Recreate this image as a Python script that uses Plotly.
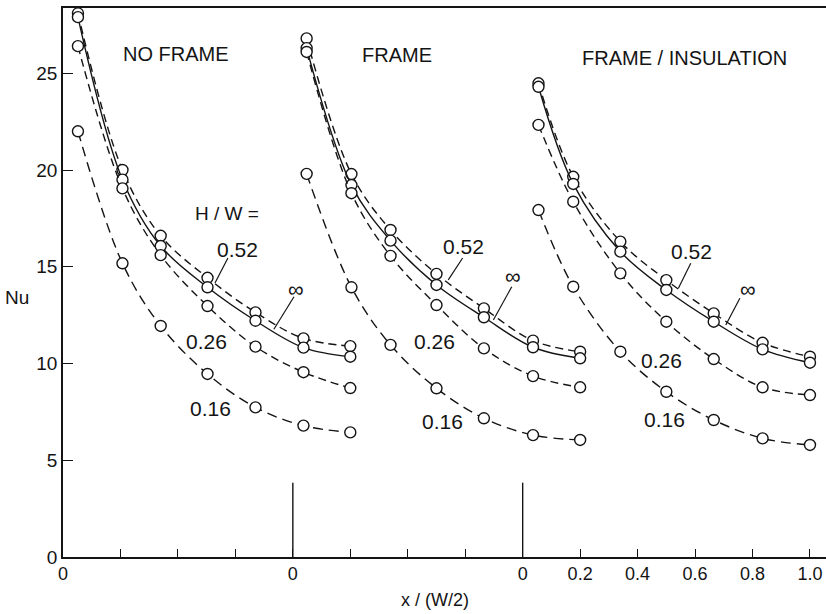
import plotly.graph_objects as go

# ---------------- data ----------------
panel_names = ["NO FRAME", "FRAME", "FRAME / INSULATION"]
panel_offsets = [0.0, 0.8, 1.6]          # panel origins on the shared x/(W/2) axis

x_p1 = [0.052, 0.207, 0.34, 0.503, 0.67, 0.837, 1.0]
x_p2 = [0.048, 0.204, 0.34, 0.50, 0.665, 0.836, 1.0]
x_p3 = [0.055, 0.176, 0.34, 0.50, 0.665, 0.835, 1.0]

p1_052 = [28.1, 20.0, 16.6, 14.43, 12.64, 11.30, 10.90]
p1_inf = [27.9, 19.5, 16.07, 13.94, 12.21, 10.82, 10.35]
p1_026 = [26.4, 19.05, 15.6, 12.97, 10.87, 9.55, 8.73]
p1_016 = [22.0, 15.18, 11.94, 9.46, 7.73, 6.79, 6.44]

p2_052 = [26.8, 19.79, 16.9, 14.63, 12.85, 11.18, 10.61]
p2_inf = [26.3, 19.22, 16.35, 14.06, 12.39, 10.84, 10.27]
p2_026 = [26.1, 18.8, 15.56, 13.02, 10.78, 9.35, 8.77]
p2_016 = [19.8, 13.94, 10.96, 8.72, 7.17, 6.30, 6.05]

p3_052 = [24.48, 19.65, 16.30, 14.31, 12.59, 11.07, 10.35]
p3_inf = [24.3, 19.28, 15.78, 13.80, 12.16, 10.73, 10.04]
p3_026 = [22.33, 18.36, 14.66, 12.16, 10.23, 8.77, 8.37]
p3_016 = [17.93, 13.97, 10.61, 8.54, 7.08, 6.13, 5.79]

series_labels = ["0.52", "∞", "0.26", "0.16"]
x_tickvals = [0.0, 0.2, 0.4, 0.6, 0.8, 1.0, 1.2, 1.4, 1.6, 1.8, 2.0, 2.2, 2.4, 2.6]
x_ticktext = ["0", "", "", "", "0", "", "", "", "0", "0.2", "0.4", "0.6", "0.8", "1.0"]
y_tickvals = [0, 5, 10, 15, 20, 25]

panels = [
    (x_p1, [p1_052, p1_inf, p1_026, p1_016]),
    (x_p2, [p2_052, p2_inf, p2_026, p2_016]),
    (x_p3, [p3_052, p3_inf, p3_026, p3_016]),
]

# ---------------- styling ----------------
INK = "#141414"
FONT = "Liberation Sans"
dash_styles = {"0.52": "8px,5px", "∞": "solid", "0.26": "8px,5px", "0.16": "10px,6px"}

fig = go.Figure()
for (xs, ys_list), off in zip(panels, panel_offsets):
    for lab, ys in zip(series_labels, ys_list):
        fig.add_trace(go.Scatter(
            x=[off + v for v in xs], y=ys, mode="lines+markers",
            line=dict(color=INK, width=1.4, dash=dash_styles[lab], shape="spline", smoothing=1.0),
            marker=dict(symbol="circle", size=11, color="white", line=dict(color=INK, width=1.4)),
            showlegend=False, hoverinfo="skip", cliponaxis=False,
        ))

# panel separators
for off in panel_offsets[1:]:
    fig.add_shape(type="line", xref="x", yref="y", x0=off, x1=off, y0=0, y1=3.84,
                  line=dict(color=INK, width=1.4))

# panel titles
title_pos = [(0.393, 26.0), (1.164, 25.94), (2.162, 25.81)]
for name, (tx, ty) in zip(panel_names, title_pos):
    fig.add_annotation(x=tx, y=ty, xref="x", yref="y", text=name, showarrow=False,
                       font=dict(family=FONT, size=20, color=INK))

fig.add_annotation(x=0.571, y=17.73, xref="x", yref="y", text="H / W =", showarrow=False,
                   font=dict(family=FONT, size=19, color=INK))

# curve labels
curve_labels = [
    ("0.52", 0.606, 15.87), ("∞", 0.811, 13.85), ("0.26", 0.498, 11.16), ("0.16", 0.512, 7.70),
    ("0.52", 1.393, 16.04), ("∞", 1.567, 14.49), ("0.26", 1.292, 11.13), ("0.16", 1.320, 6.99),
    ("0.52", 2.188, 15.78), ("∞", 2.383, 13.80), ("0.26", 2.084, 10.18), ("0.16", 2.092, 7.12),
]
for t, lx, ly in curve_labels:
    fig.add_annotation(x=lx, y=ly, xref="x", yref="y", text=t, showarrow=False,
                       font=dict(family=FONT, size=21 if t != "∞" else 22, color=INK))

# leader lines
leaders = [
    (0.574, 15.45, 0.529, 14.16), (0.804, 13.45, 0.734, 11.77),
    (1.391, 15.45, 1.341, 14.32), (1.562, 13.97, 1.498, 12.25),
    (2.185, 15.18, 2.142, 13.89), (2.356, 13.37, 2.307, 11.99),
]
for x0, y0, x1, y1 in leaders:
    fig.add_shape(type="line", xref="x", yref="y", x0=x0, y0=y0, x1=x1, y1=y1,
                  line=dict(color=INK, width=1.2))

# axis titles (positions given in plot-area paper fractions)
plot_w, plot_h = 826 - 63, 614 - 8 - 57
fig.add_annotation(x=(17 - 63) / plot_w, y=(557 - 297) / plot_h, xref="paper", yref="paper",
                   text="Nu", showarrow=False, xanchor="center", yanchor="middle",
                   font=dict(family=FONT, size=19, color=INK))
fig.add_annotation(x=(435 - 63) / plot_w, y=(557 - 600) / plot_h, xref="paper", yref="paper",
                   text="x / (W/2)", showarrow=False, xanchor="center", yanchor="middle",
                   font=dict(family=FONT, size=18, color=INK))

fig.update_xaxes(range=[0, 763 / 287.3], showline=True, linecolor=INK, linewidth=1.5,
                 mirror=True, showgrid=False, zeroline=False,
                 tickmode="array", tickvals=x_tickvals, ticktext=x_ticktext,
                 ticks="inside", ticklen=8, tickwidth=1.4, tickcolor=INK,
                 tickfont=dict(family=FONT, size=18, color=INK))
fig.update_yaxes(range=[0, 549 / 19.35], showline=True, linecolor=INK, linewidth=1.5,
                 showgrid=False, zeroline=False,
                 tickmode="array", tickvals=y_tickvals,
                 ticks="inside", ticklen=10, tickwidth=1.4, tickcolor=INK,
                 tickfont=dict(family=FONT, size=19, color=INK))

fig.update_layout(width=826, height=614, margin=dict(l=63, r=0, t=8, b=57),
                  paper_bgcolor="white", plot_bgcolor="white", showlegend=False)

fig.write_html("out.html")
